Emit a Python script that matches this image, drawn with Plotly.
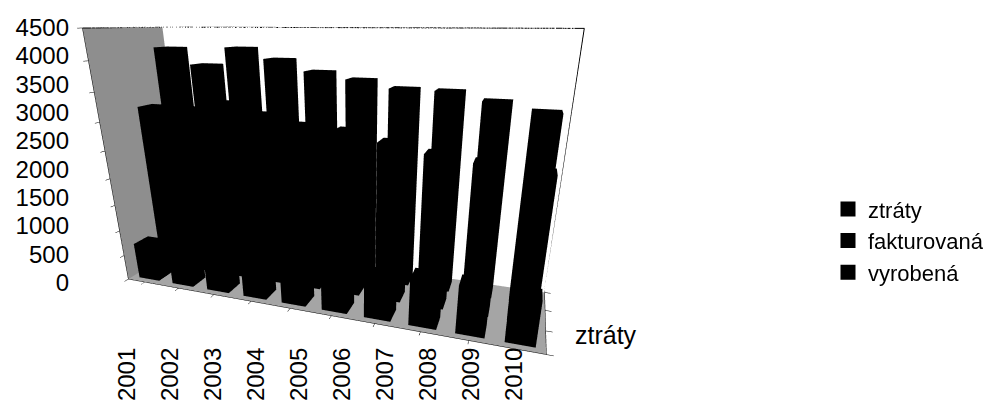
import numpy as np
import plotly.graph_objects as go

years = ["2001", "2002", "2003", "2004", "2005", "2006", "2007", "2008", "2009", "2010"]
series_names = ["ztráty", "fakturovaná", "vyrobená"]
ztraty = [700, 700, 850, 850, 800, 750, 750, 850, 850, 800]
fakturovana = [3150, 3150, 3290, 3130, 2990, 2950, 2810, 2680, 2600, 2520]
vyrobena = [4150, 3860, 4170, 3990, 3800, 3690, 3570, 3560, 3430, 3300]
series_values = [ztraty, fakturovana, vyrobena]
value_ticks = [0, 500, 1000, 1500, 2000, 2500, 3000, 3500, 4000, 4500]
depth_label = "ztráty"

X_RANGE = [-0.5, len(years) - 0.5]
Y_RANGE = [-0.5, len(series_names) - 0.5]
Z_RANGE = [0, 4500]
BAR_HALF_X = 0.3
BAR_HALF_Y = 0.3

# ---- camera: fitted so the box frame lands where the reference frame is ----
PAGE_H = 420
SCENE_W = 700
FRAME_TARGETS = [  # (corner sign x, y, z) -> screen pixel, weight
    ((-1, -1, 1), (90, 20), 1.5), ((-1, 1, 1), (155, 4), 2.0),
    ((-1, -1, -1), (100, 277), 1.5), ((1, 1, 1), (573, 30), 2.0),
    ((1, 1, -1), (560, 290), 1.0), ((1, -1, -1), (533, 340), 1.0),
]
ASPECT_X = 2.2
START = np.array([0.532, 1.283, 0.943, -2.242, 0.525, 0.147, -0.01, -0.208, 0.0])


def project(params, corner):
    ay, az, ex, ey, ez, cx, cy, cz, b = params
    b = min(max(b, 0.0), 0.4)
    hs = PAGE_H * (1 - b)
    focal = (hs / 2) / np.tan(np.pi / 8)
    p = np.array([corner[0] * ASPECT_X / 2, corner[1] * ay / 2, corner[2] * az / 2])
    eye = np.array([ex, ey, ez]); c = np.array([cx, cy, cz])
    d = c - eye; d = d / np.linalg.norm(d)
    r = np.cross(d, [0, 0, 1.0]); r = r / np.linalg.norm(r)
    u = np.cross(r, d)
    v = p - eye
    depth = v @ d
    return np.array([SCENE_W / 2 + focal * (v @ r) / depth,
                     hs / 2 - focal * (v @ u) / depth])


def residuals(params):
    out = []
    for corner, target, w in FRAME_TARGETS:
        out.extend(w * (project(params, corner) - np.array(target)))
    return np.array(out)


def fit_camera():
    p = START.copy()
    lam = 1e-2
    for _ in range(1500):
        r = residuals(p)
        J = np.zeros((len(r), len(p)))
        for j in range(len(p)):
            dp = np.zeros(len(p)); dp[j] = 1e-6
            J[:, j] = (residuals(p + dp) - r) / 1e-6
        A = J.T @ J
        A = A + lam * np.diag(np.diag(A)) + 1e-9 * np.eye(len(p))
        step = np.linalg.solve(A, -J.T @ r)
        if np.all(np.isfinite(step)) and np.sum(residuals(p + step) ** 2) < np.sum(r ** 2):
            p = p + step; lam = max(lam * 0.5, 1e-8)
        else:
            lam = min(lam * 3, 1e8)
    if not np.all(np.isfinite(p)):
        p = START.copy()
    p[8] = min(max(p[8], 0.0), 0.4)
    return [float(v) for v in p]


AY, AZ, EX, EY, EZ, CX, CY, CZ, DOM_B = fit_camera()


def box_mesh(values, depth_index):
    xs, ys, zs, ii, jj, kk = [], [], [], [], [], []
    for xi, v in enumerate(values):
        base = len(xs)
        x0, x1 = xi - BAR_HALF_X, xi + BAR_HALF_X
        y0, y1 = depth_index - BAR_HALF_Y, depth_index + BAR_HALF_Y
        for (cx, cy, cz) in [(x0, y0, 0), (x1, y0, 0), (x1, y1, 0), (x0, y1, 0),
                             (x0, y0, v), (x1, y0, v), (x1, y1, v), (x0, y1, v)]:
            xs.append(cx); ys.append(cy); zs.append(cz)
        faces = [(0, 1, 2), (0, 2, 3), (4, 5, 6), (4, 6, 7),
                 (0, 1, 5), (0, 5, 4), (1, 2, 6), (1, 6, 5),
                 (2, 3, 7), (2, 7, 6), (3, 0, 4), (3, 4, 7)]
        for a, b, c in faces:
            ii.append(base + a); jj.append(base + b); kk.append(base + c)
    return xs, ys, zs, ii, jj, kk


font_family = "Liberation Sans, Arial, sans-serif"
fig = go.Figure()

for d, (name, vals) in enumerate(zip(series_names, series_values)):
    xs, ys, zs, ii, jj, kk = box_mesh(vals, d)
    fig.add_trace(go.Mesh3d(
        x=xs, y=ys, z=zs, i=ii, j=jj, k=kk,
        color="black", flatshading=True, name=name, showlegend=False,
        lighting=dict(ambient=1.0, diffuse=0.0, specular=0.0, fresnel=0.0),
        hoverinfo="skip",
    ))

xl, xr = X_RANGE
yf, yb = Y_RANGE
zb, zt = Z_RANGE
fig.add_trace(go.Scatter3d(
    x=[xl, xl, xr, xr, None, xl, xl],
    y=[yf, yb, yb, yb, None, yf, yb],
    z=[zt, zt, zt, zb, None, zt, zt],
    mode="lines", line=dict(color="black", width=2),
    showlegend=False, hoverinfo="skip"))

for name in series_names:
    fig.add_trace(go.Scatter(x=[None], y=[None], mode="markers", name=name,
                             marker=dict(symbol="square", size=15, color="black"),
                             xaxis="x", yaxis="y", showlegend=True, hoverinfo="skip"))

fig.add_trace(go.Scatter(x=years, y=[None] * len(years), mode="markers",
                         showlegend=False, hoverinfo="skip", xaxis="x", yaxis="y"))
fig.add_trace(go.Scatter(x=[0], y=[None], mode="markers", showlegend=False,
                         hoverinfo="skip", xaxis="x2", yaxis="y2"))

fig.update_layout(
    width=1000, height=420,
    paper_bgcolor="white", plot_bgcolor="rgba(0,0,0,0)",
    margin=dict(l=0, r=0, t=0, b=0, autoexpand=False),
    font=dict(family=font_family, color="black"),
    showlegend=True,
    legend=dict(x=0.82, y=0.446, xanchor="left", yanchor="middle",
                font=dict(size=22, family=font_family, color="black"),
                traceorder="normal", itemwidth=30, bgcolor="rgba(0,0,0,0)",
                tracegroupgap=0),
    xaxis=dict(domain=[0.0975, 0.5275], type="category", categoryarray=years,
               range=[-0.5, len(years) - 0.5], showgrid=False, zeroline=False,
               showline=False, ticks="", tickangle=-90, anchor="free", position=0.205,
               automargin=False,
               tickfont=dict(size=24, family=font_family, color="black")),
    yaxis=dict(domain=[0.3464, 0.9536], range=Z_RANGE, tickvals=value_ticks,
               showgrid=False, zeroline=False, showline=False, ticks="",
               anchor="free", position=0.061, automargin=False,
               tickfont=dict(size=24, family=font_family, color="black")),
    xaxis2=dict(domain=[0.57, 0.6], range=[-1, 1], visible=False, anchor="y2",
                automargin=False),
    yaxis2=dict(domain=[0.15, 0.29], range=[-1, 1], tickvals=[0], ticktext=[depth_label],
                side="right", anchor="free", position=0.566, showgrid=False,
                zeroline=False, showline=False, ticks="", automargin=False,
                tickfont=dict(size=25, family=font_family, color="black")),
    scene=dict(
        domain=dict(x=[0.0, 0.7], y=[DOM_B, 1.0]),
        aspectmode="manual",
        aspectratio=dict(x=ASPECT_X, y=AY, z=AZ),
        camera=dict(eye=dict(x=EX, y=EY, z=EZ),
                    center=dict(x=CX, y=CY, z=CZ),
                    up=dict(x=0, y=0, z=1)),
        xaxis=dict(title=dict(text=""), tickvals=list(range(len(years))), ticktext=years,
                   range=X_RANGE, showgrid=False, zeroline=False,
                   showbackground=True, backgroundcolor="#8e8e8e",
                   showline=True, linecolor="black", ticks="outside", tickcolor="black",
                   showticklabels=False, showspikes=False),
        yaxis=dict(title=dict(text=""), tickvals=[-0.5, 0.5, 1.5, 2.5],
                   range=Y_RANGE, showgrid=False, zeroline=False,
                   showbackground=True, backgroundcolor="white",
                   showline=True, linecolor="black", ticks="outside", tickcolor="black",
                   showticklabels=False, showspikes=False),
        zaxis=dict(title=dict(text=""), range=Z_RANGE, tickvals=value_ticks,
                   showgrid=False, zeroline=False,
                   showbackground=True, backgroundcolor="#a5a5a5",
                   showline=True, linecolor="black", ticks="outside", tickcolor="black",
                   showticklabels=False, showspikes=False),
    ),
)

fig.write_html("out.html")
